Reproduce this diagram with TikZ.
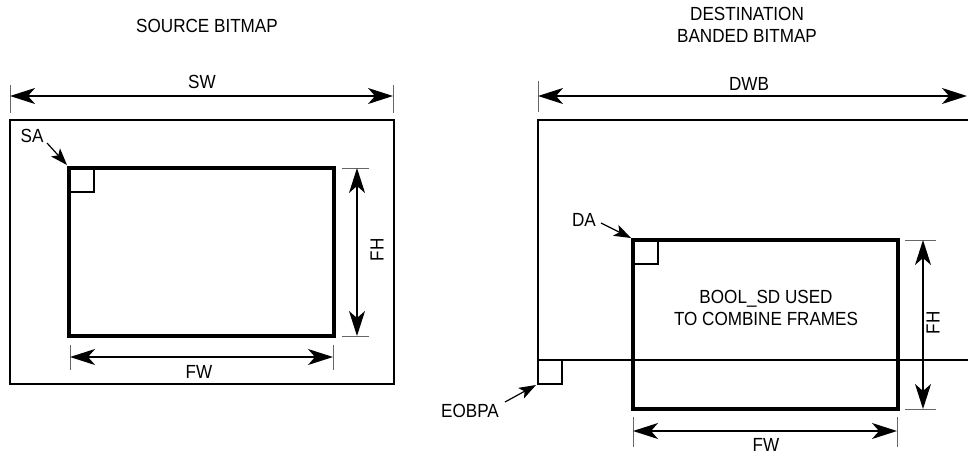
\documentclass[tikz,border=0pt]{standalone}
\usepackage{fontspec}
\setmainfont{Liberation Sans}[FakeStretch=0.9]
\usetikzlibrary{arrows.meta}
\begin{document}
\begin{tikzpicture}[x=1pt,y=-1pt,
  lbl/.style={font=\fontsize{19}{22}\selectfont, inner sep=0pt, align=center},
  dimarrow/.style={line width=1.5pt, arrows={Stealth[length=25pt,width=16pt,inset=7pt]-Stealth[length=25pt,width=16pt,inset=7pt]}},
  pointer/.style={line width=1.2pt, -{Stealth[length=17pt,width=12pt,inset=4pt]}},
  extline/.style={line width=0.8pt, draw=black!60},
  frame/.style={line width=2.2pt},
  thickframe/.style={line width=4pt, line join=miter},
  corner/.style={line width=1.6pt}]
\useasboundingbox (0,0) rectangle (968,455);

% ---------------- Source bitmap ----------------
\node[lbl] (srctitle) at (207,26) {SOURCE BITMAP};

\coordinate (swL1) at (10,85);  \coordinate (swL2) at (10,113);
\coordinate (swR1) at (393,85); \coordinate (swR2) at (393,113);
\draw[extline] (swL1) -- (swL2);
\draw[extline] (swR1) -- (swR2);
\coordinate (swA) at (10,96); \coordinate (swB) at (393,96);
\draw[dimarrow] (swA) -- (swB);
\node[lbl] (sw) at (202,82) {SW};

\draw[frame] (10,120) rectangle (394,384);
\draw[thickframe] (69,168) rectangle (334,336);
\draw[corner] (69,192) -- (94,192) -- (94,168);

\node[lbl] (sa) at (32,136) {SA};
\coordinate (saTip) at (67,165);
\draw[pointer] (47,143) -- (saTip);

% FH (left)
\coordinate (fhT1) at (342,168); \coordinate (fhT2) at (369,168);
\coordinate (fhB1) at (342,336); \coordinate (fhB2) at (369,336);
\draw[extline] (fhT1) -- (fhT2);
\draw[extline] (fhB1) -- (fhB2);
\coordinate (fhA) at (357,168); \coordinate (fhB) at (357,336);
\draw[dimarrow] (fhA) -- (fhB);
\node[lbl, rotate=90] (fh) at (377,250) {FH};

% FW (left)
\coordinate (fwL1) at (70,345);  \coordinate (fwL2) at (70,370);
\coordinate (fwR1) at (333,345); \coordinate (fwR2) at (333,370);
\draw[extline] (fwL1) -- (fwL2);
\draw[extline] (fwR1) -- (fwR2);
\coordinate (fwA) at (70,357); \coordinate (fwB) at (333,357);
\draw[dimarrow] (fwA) -- (fwB);
\node[lbl] (fw) at (199,372) {FW};

% ---------------- Destination ----------------
\node[lbl] (dsttitle) at (747,25) {DESTINATION\\BANDED BITMAP};

\coordinate (dwL1) at (538,81); \coordinate (dwL2) at (538,112);
\draw[extline] (dwL1) -- (dwL2);
\coordinate (dwA) at (538,96); \coordinate (dwB) at (967,96);
\draw[dimarrow] (dwA) -- (dwB);
\node[lbl] (dwb) at (749,84) {DWB};

\draw[thickframe] (633,240) rectangle (898,409);
\draw[corner] (633,264) -- (658,264) -- (658,240);

\draw[frame] (968,120) -- (538,120) -- (538,360) -- (968,360);
\draw[corner] (538,360) -- (538,384) -- (562,384) -- (562,360);

\node[lbl] (da) at (584,220) {DA};
\coordinate (daTip) at (631,238);
\draw[pointer] (601,223) -- (daTip);

\node[lbl] (eobpa) at (470,411) {EOBPA};
\coordinate (eoTip) at (536,385);
\draw[pointer] (505,402) -- (eoTip);

\node[lbl] (bool) at (766,308) {BOOL\_SD USED\\TO COMBINE FRAMES};

% FH (right)
\coordinate (fhT3) at (905,240); \coordinate (fhT4) at (936,240);
\coordinate (fhB3) at (905,409); \coordinate (fhB4) at (936,409);
\draw[extline] (fhT3) -- (fhT4);
\draw[extline] (fhB3) -- (fhB4);
\coordinate (fhC) at (923,240); \coordinate (fhD) at (923,409);
\draw[dimarrow] (fhC) -- (fhD);
\node[lbl, rotate=90] (fh2) at (933,323) {FH};

% FW (right)
\coordinate (fwL3) at (633,417); \coordinate (fwL4) at (633,447);
\coordinate (fwR3) at (897,417); \coordinate (fwR4) at (897,447);
\draw[extline] (fwL3) -- (fwL4);
\draw[extline] (fwR3) -- (fwR4);
\coordinate (fwC) at (633,431); \coordinate (fwD) at (897,431);
\draw[dimarrow] (fwC) -- (fwD);
\node[lbl] (fw2) at (766,445) {FW};
\end{tikzpicture}
\end{document}
